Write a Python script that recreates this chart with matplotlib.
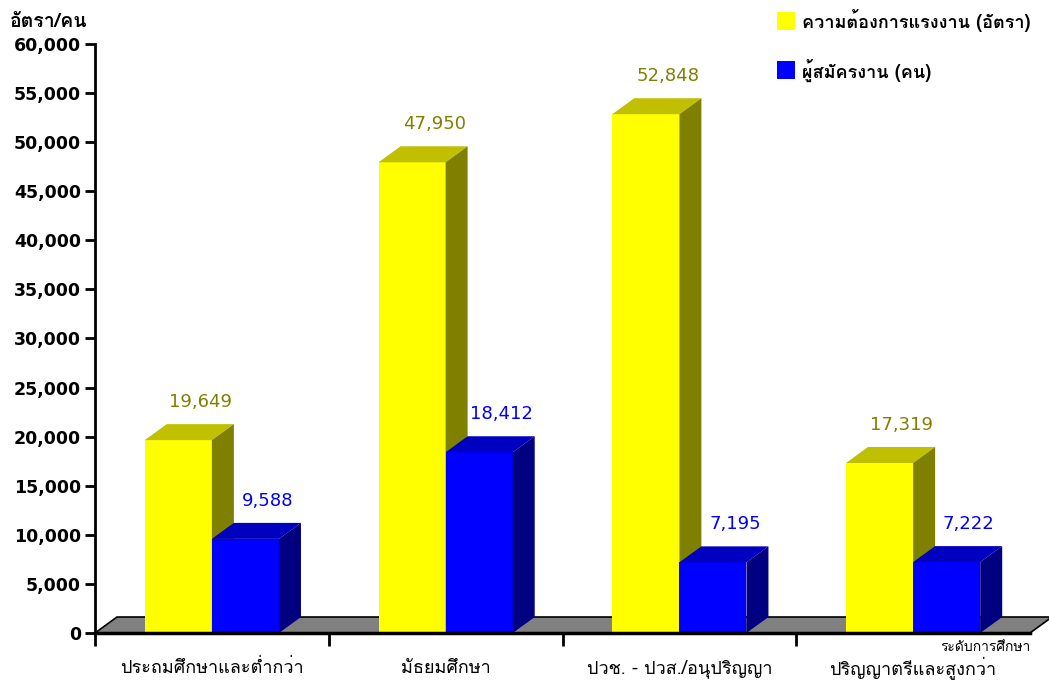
import matplotlib
matplotlib.use("Agg")
import matplotlib.pyplot as plt
from matplotlib import font_manager
from matplotlib.ft2font import FT2Font
from matplotlib.patches import Polygon

# data
categories = ["ประถมศึกษาและต่ำกว่า", "มัธยมศึกษา", "ปวช. - ปวส./อนุปริญญา", "ปริญญาตรีและสูงกว่า"]
demand = [19649, 47950, 52848, 17319]
applicants = [9588, 18412, 7195, 7222]
series_names = ["ความต้องการแรงงาน (อัตรา)", "ผู้สมัครงาน (คน)"]
y_ticks = list(range(0, 60001, 5000))


def find_thai_family():
    # pick any installed font that has Thai glyphs
    for f in font_manager.fontManager.ttflist:
        try:
            if 0x0E01 in FT2Font(f.fname).get_charmap():
                return f.name
        except Exception:
            pass
    return None


thai = find_thai_family()
FAM = [thai, "DejaVu Sans"] if thai else ["DejaVu Sans"]

W, H = 1049, 681
fig = plt.figure(figsize=(W / 100, H / 100), dpi=100)
ax = fig.add_axes([95 / W, (H - 633) / H, 935 / W, 589 / H])
ax.set_xlim(0, 4)
ax.set_ylim(0, 60000)

# depth of the fake 3d, given in pixels
dx = 22 * 4 / 935
dy = 16 * 60000 / 589

floor = Polygon([(0, 0), (4, 0), (4 + dx, dy), (dx, dy)], closed=True,
                facecolor="#808080", edgecolor="black", lw=1.2, zorder=1, clip_on=False)
ax.add_patch(floor)

bw = 0.287
styles = [
    ("#FFFF00", "#C0C000", "#808000", "#808000"),
    ("#0000FF", "#0000C0", "#000080", "#0000FF"),
]


def bar3d(x0, v, front, top, side, z):
    x1 = x0 + bw
    ax.add_patch(Polygon([(x0, 0), (x1, 0), (x1, v), (x0, v)], facecolor=front, lw=0, zorder=z))
    ax.add_patch(Polygon([(x0, v), (x1, v), (x1 + dx, v + dy), (x0 + dx, v + dy)],
                         facecolor=top, lw=0, zorder=z, clip_on=False))
    ax.add_patch(Polygon([(x1, 0), (x1 + dx, dy), (x1 + dx, v + dy), (x1, v)],
                         facecolor=side, lw=0, zorder=z, clip_on=False))


for s, vals in enumerate([demand, applicants]):
    front, top, side, lab = styles[s]
    for i, v in enumerate(vals):
        x0 = i + 0.5 - bw + s * bw
        bar3d(x0, v, front, top, side, 2 + s)
        ax.annotate(f"{v:,}", (x0 + bw / 2 + dx, v + dy), xytext=(0, 16),
                    textcoords="offset points", ha="center", va="center",
                    fontsize=13, color=lab, annotation_clip=False)

for sp in ["top", "right"]:
    ax.spines[sp].set_visible(False)
ax.spines["left"].set_linewidth(2)
ax.spines["bottom"].set_linewidth(2.5)
ax.spines["bottom"].set_zorder(5)

ax.set_yticks(y_ticks)
ax.set_yticklabels([f"{t:,}" for t in y_ticks], fontsize=12.5, fontweight="bold")
ax.tick_params(axis="y", length=7, width=2, pad=3)
ax.set_xticks([0, 1, 2, 3])
ax.set_xticklabels([])
ax.tick_params(axis="x", length=9, width=2)
for i, c in enumerate(categories):
    ax.text(i + 0.5, -3600, c, ha="center", va="center", fontsize=13, family=FAM)

fig.text(10 / W, 1 - 22 / H, "อัตรา/คน", ha="left", va="center", fontsize=14,
         fontweight="bold", family=FAM)
fig.text(1031 / W, 1 - 648 / H, "ระดับการศึกษา", ha="right", va="center", fontsize=10, family=FAM)

# legend
for k, name in enumerate(series_names):
    y = 21 + 49 * k
    fig.patches.append(plt.Rectangle((777 / W, 1 - (y + 9) / H), 18 / W, 18 / H,
                                     transform=fig.transFigure, facecolor=styles[k][0], lw=0))
    fig.text(802 / W, 1 - y / H, name, ha="left", va="center", fontsize=13,
             fontweight="bold", family=FAM)

fig.savefig("out.png", dpi=100)
